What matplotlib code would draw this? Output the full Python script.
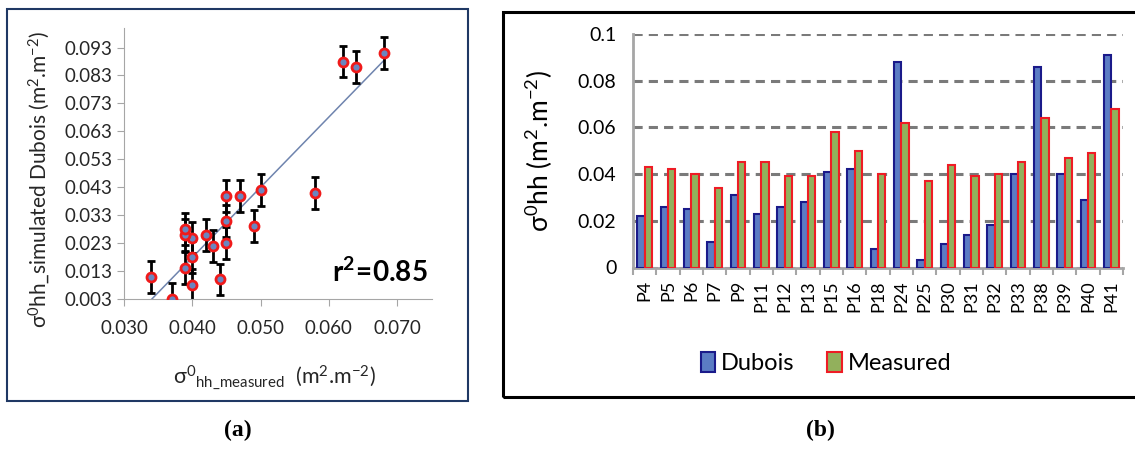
import numpy as np
import matplotlib as mpl
import matplotlib.pyplot as plt
from matplotlib.patches import Rectangle, Patch

mpl.rcParams['font.family'] = ['Lato', 'DejaVu Sans']
mpl.rcParams['mathtext.fontset'] = 'custom'
mpl.rcParams['mathtext.rm'] = 'Lato'
mpl.rcParams['mathtext.it'] = 'Lato'
mpl.rcParams['mathtext.bf'] = 'Lato:bold'

# plots and values (Dubois simulated vs measured sigma0 hh)
plots = ['P4', 'P5', 'P6', 'P7', 'P9', 'P11', 'P12', 'P13', 'P15', 'P16', 'P18',
         'P24', 'P25', 'P30', 'P31', 'P32', 'P33', 'P38', 'P39', 'P40', 'P41']
dubois = [0.022, 0.026, 0.025, 0.011, 0.031, 0.023, 0.026, 0.028, 0.041, 0.042, 0.008,
          0.088, 0.003, 0.010, 0.014, 0.018, 0.040, 0.086, 0.040, 0.029, 0.091]
measured = [0.043, 0.042, 0.040, 0.034, 0.045, 0.045, 0.039, 0.039, 0.058, 0.050, 0.040,
            0.062, 0.037, 0.044, 0.039, 0.040, 0.045, 0.064, 0.047, 0.049, 0.068]
err = 0.0057
r2_text = '0.85'

dubois = np.array(dubois)
measured = np.array(measured)

fig = plt.figure(figsize=(11.35, 4.49), dpi=100)

# frames around the panels
fig.add_artist(Rectangle((7/1135, 1-401/449), 461/1135, 392/449, transform=fig.transFigure,
                         fill=False, edgecolor='#1F3864', lw=1.5))
fig.add_artist(Rectangle((503/1135, 1-397/449), 640/1135, 385/449, transform=fig.transFigure,
                         fill=False, edgecolor='black', lw=2.2))

# ---- (a) scatter
ax = fig.add_axes([124/1135, 1-299/449, 308/1135, 271/449])
ax.errorbar(measured, dubois, yerr=err, fmt='none', ecolor='black', elinewidth=2,
            capsize=3, capthick=2, zorder=2)
ax.scatter(measured, dubois, s=42, facecolor='#6A86C0', edgecolor='#F01A1A', lw=2, zorder=3)
k, b = np.polyfit(measured, dubois, 1)
xl = np.array([measured.min(), measured.max()])
ax.plot(xl, k*xl + b, color='#6F84AE', lw=1.1, zorder=1)
ax.set_xlim(0.030, 0.0751)
ax.set_ylim(0.003, 0.1)
ax.set_xticks([0.030, 0.040, 0.050, 0.060, 0.070])
ax.set_yticks(np.arange(0.003, 0.094, 0.01))
ax.xaxis.set_major_formatter(mpl.ticker.FormatStrFormatter('%.3f'))
ax.yaxis.set_major_formatter(mpl.ticker.FormatStrFormatter('%.3f'))
for s in ['top', 'right']:
    ax.spines[s].set_visible(False)
for s in ['left', 'bottom']:
    ax.spines[s].set_color('#A6A6A6')
ax.tick_params(colors='#A6A6A6', length=5, labelcolor='#262626', labelsize=13.5)
ax.tick_params(axis='x', pad=10)
ax.set_ylabel(r'σ$^{0}$hh_simulated Dubois (m$^{2}$.m$^{-2}$)', fontsize=15, color='#262626')
ax.yaxis.set_label_coords(-0.235, 0.44)
ax.set_xlabel(r'σ$^{0}$$_{\mathrm{hh\_measured}}$  (m$^{2}$.m$^{-2}$)', fontsize=15.5, color='#262626')
ax.xaxis.set_label_coords(0.49, -0.235)
ax.text(0.985, 0.1, r'$\mathbf{r^{2}\!=\!' + r2_text + '}$', transform=ax.transAxes,
        ha='right', va='center', fontsize=20)

# ---- (b) bars
bx = fig.add_axes([633/1135, 1-267.5/449, 490/1135, 233.5/449])
x = np.arange(len(plots))
w = 0.32
bx.bar(x - w/2, dubois, w, facecolor='#5B7CC4', edgecolor='#1A1A8A', lw=1.5, zorder=3)
bx.bar(x + w/2, measured, w, facecolor='#92B05C', edgecolor='#EE1C25', lw=1.5, zorder=3)
bx.set_xlim(-0.5, len(plots) - 0.5)
bx.set_ylim(0, 0.1)
bx.set_yticks([0, 0.02, 0.04, 0.06, 0.08, 0.1])
bx.set_yticklabels(['0', '0.02', '0.04', '0.06', '0.08', '0.1'])
bx.yaxis.grid(True, color='#7A7A7A', ls=(0, (3, 2)), lw=2.2, zorder=0)
bx.set_xticks(x)
bx.set_xticklabels(plots, rotation=90, fontsize=13)
bx.set_xticks(np.arange(-0.5, len(plots)), minor=True)
bx.tick_params(axis='x', which='major', length=0, pad=9)
bx.tick_params(axis='x', which='minor', length=5, color='#A6A6A6', width=1.5)
bx.tick_params(axis='y', length=0, labelsize=14, pad=12)
for s in ['top', 'right']:
    bx.spines[s].set_visible(False)
for s in ['left', 'bottom']:
    bx.spines[s].set_color('#A6A6A6')
    bx.spines[s].set_linewidth(2)
bx.set_ylabel(r'σ$^{0}$hh (m$^{2}$.m$^{-2}$)', fontsize=19)
bx.yaxis.set_label_coords(-0.16, 0.5)

handles = [Patch(facecolor='#5B7CC4', edgecolor='#1A1A8A', lw=1.5),
           Patch(facecolor='#92B05C', edgecolor='#EE1C25', lw=1.5)]
fig.legend(handles, ['Dubois', 'Measured'], loc='center', bbox_to_anchor=(826/1135, 1-363/449),
           ncol=2, frameon=False, fontsize=17, handlelength=0.6, handleheight=0.9,
           handletextpad=0.25, columnspacing=1.4)

fig.text(238/1135, 1-430/449, '(a)', ha='center', va='center', fontsize=17,
         family='Liberation Serif', weight='bold')
fig.text(820/1135, 1-430/449, '(b)', ha='center', va='center', fontsize=17,
         family='Liberation Serif', weight='bold')

fig.savefig('out.png', dpi=100)
